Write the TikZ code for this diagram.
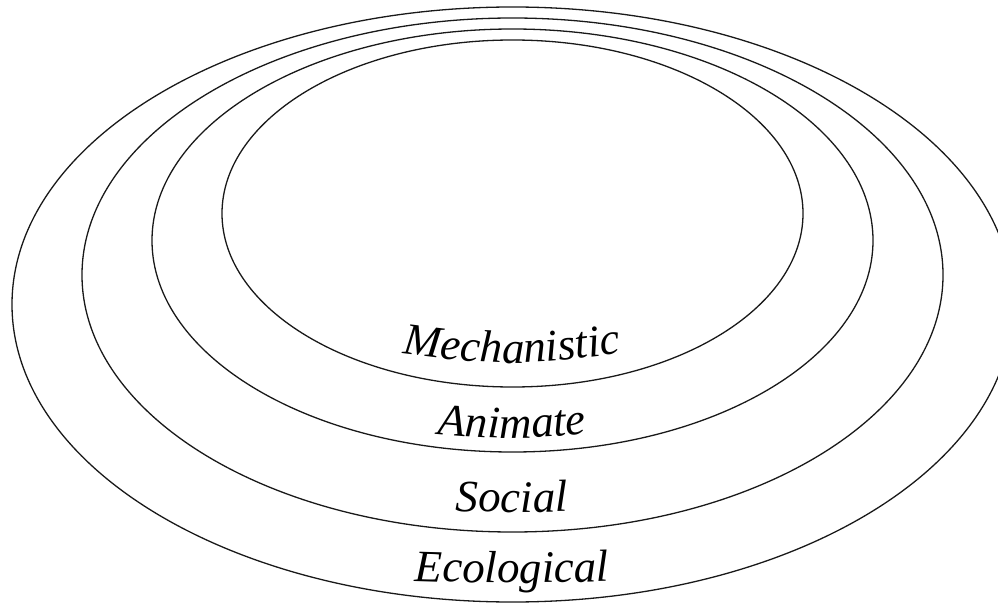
\documentclass[tikz,border=0pt]{standalone}
\usepackage{fontspec}
\setmainfont{Liberation Serif}
\usetikzlibrary{decorations.text}
\begin{document}
\begin{tikzpicture}[x=1pt,y=1pt,
  ring/.style={draw=black!90, line width=1.3pt},
  lbl/.style={decorate, decoration={text along path, text align=center,
     text format delimiters={|}{|},
     text={|\itshape\fontsize{45}{45}\selectfont|#1}}}]
\useasboundingbox (0,0) rectangle (998,606);
\clip (0,0) rectangle (998,606);
\draw[ring] (512.5,301.5) ellipse [x radius=500.5, y radius=297.5];
\draw[ring] (512.5,331) ellipse [x radius=430.5, y radius=257];
\draw[ring] (512.5,365.5) ellipse [x radius=360.5, y radius=211.5];
\draw[ring] (512.5,392.5) ellipse [x radius=290.5, y radius=173.5];
\coordinate (m1) at (362,258);
\coordinate (m2) at (662,258);
\coordinate (a1) at (392,176);
\coordinate (a2) at (632,176);
\coordinate (s1) at (402,96);
\coordinate (s2) at (622,96);
\coordinate (e1) at (382,26);
\coordinate (e2) at (642,26);
\path[lbl=Mechanistic] (m1) .. controls (512,238) .. (m2);
\path[lbl=Animate] (a1) .. controls (512,165) .. (a2);
\path[lbl=Social] (s1) .. controls (512,93) .. (s2);
\path[lbl=Ecological] (e1) .. controls (512,22) .. (e2);
\end{tikzpicture}
\end{document}
